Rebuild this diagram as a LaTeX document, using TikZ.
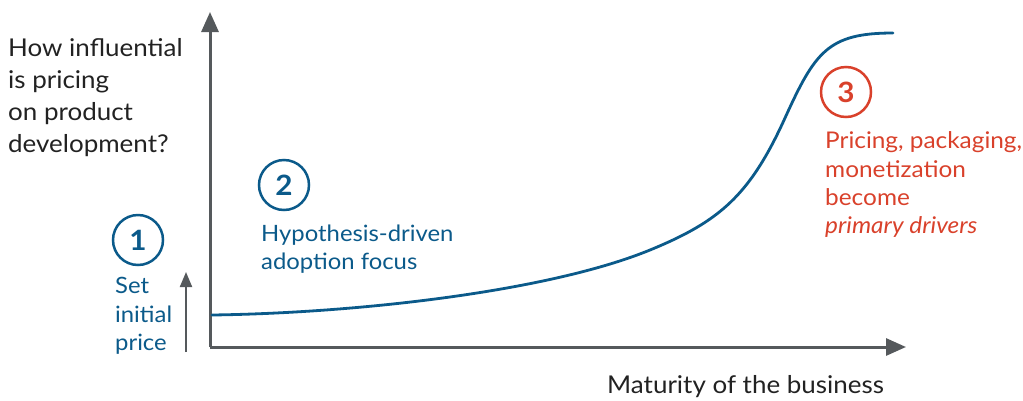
\documentclass[tikz,border=0pt]{standalone}
\usepackage{fontspec}
\setmainfont{Lato}[FakeStretch=1.06]
\usetikzlibrary{arrows.meta}
\definecolor{axisgray}{HTML}{55595C}
\definecolor{curveblue}{HTML}{0B5A8A}
\definecolor{accred}{HTML}{D9412B}
\definecolor{txt}{HTML}{222222}
\begin{document}
\begin{tikzpicture}[x=1pt,y=-1pt,
  axis/.style={draw=axisgray,line width=3pt,-{Triangle[length=20pt,width=17pt]}},
  smallarrow/.style={draw=axisgray,line width=2pt,-{Triangle[length=15pt,width=12pt]}},
  numcircle/.style={circle,draw,line width=2.5pt,minimum size=50pt,inner sep=0pt,font=\bfseries\fontsize{28}{28}\selectfont},
  ltxt/.style={anchor=base west,inner sep=0pt},
  qtxt/.style={ltxt,text=txt,font=\fontsize{24.5}{24.5}\selectfont},
  btxt/.style={ltxt,text=curveblue,font=\fontsize{22.5}{22.5}\selectfont},
  rtxt/.style={ltxt,text=accred,font=\fontsize{23}{23}\selectfont}]
\useasboundingbox (0,0) rectangle (1023,400);
% axes
\coordinate (origin) at (210,347);
\coordinate (ytop) at (210,12);
\coordinate (xend) at (906,347);
\draw[axis] (origin) -- (ytop);
\draw[axis] (origin) -- (xend);
% curve
\coordinate (k0) at (212,315);
\coordinate (k1) at (650,250);
\coordinate (k2) at (785,118);
\coordinate (k3) at (893,33);
\draw[curveblue,line width=2.8pt,line cap=round]
  (k0) .. controls (360,313) and (550,291) .. (k1)
       .. controls (720,221.3) and (750,195) .. (k2)
       .. controls (815,52) and (828,33) .. (k3);
% question text
\node[qtxt] (q1) at (8,56) {How influential};
\node[qtxt] (q2) at (8,88) {is pricing};
\node[qtxt] (q3) at (8,120) {on product};
\node[qtxt] (q4) at (8,152) {development?};
% stage 1
\node[numcircle,draw=curveblue,text=curveblue] (c1) at (138,240) {1};
\node[btxt] (s1a) at (115,293) {Set};
\node[btxt] (s1b) at (115,322) {initial};
\node[btxt] (s1c) at (115,350) {price};
\coordinate (sa0) at (186,352);
\coordinate (sa1) at (186,272);
\draw[smallarrow] (sa0) -- (sa1);
% stage 2
\node[numcircle,draw=curveblue,text=curveblue] (c2) at (284,185) {2};
\node[btxt] (s2a) at (261,241) {Hypothesis-driven};
\node[btxt] (s2b) at (261,269) {adoption focus};
% stage 3
\node[numcircle,draw=accred,text=accred] (c3) at (846,92) {3};
\node[rtxt] (s3a) at (825,148) {Pricing, packaging,};
\node[rtxt] (s3b) at (825,177) {monetization};
\node[rtxt] (s3c) at (825,205) {become};
\node[rtxt] (s3d) at (825,233) {\itshape primary drivers};
% x label
\node[ltxt,text=txt,font=\fontsize{24.5}{24.5}\selectfont] (xl) at (607,393) {Maturity of the business};
\end{tikzpicture}
\end{document}
